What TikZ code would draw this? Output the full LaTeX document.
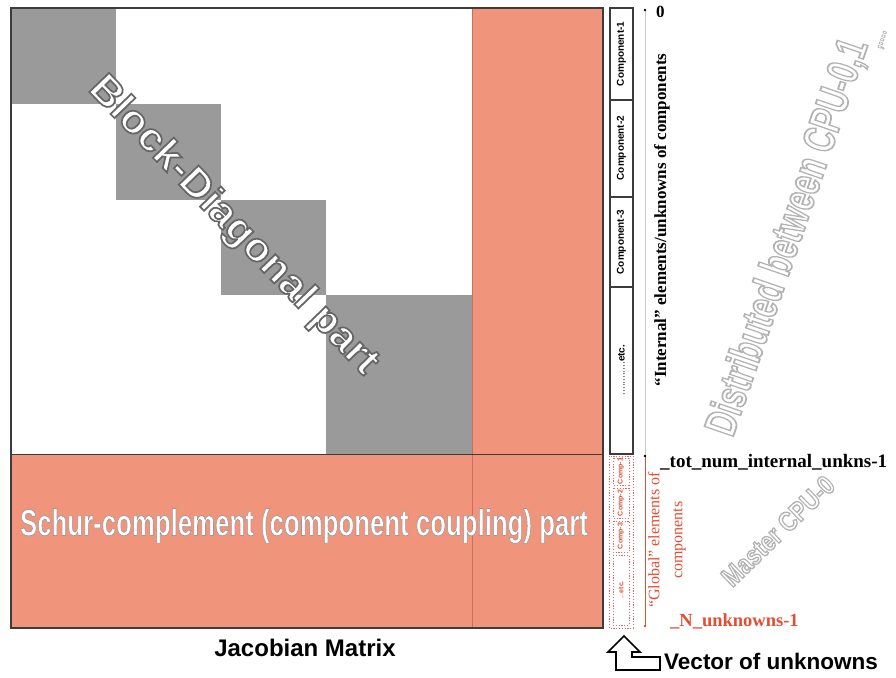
\documentclass[tikz,border=0pt]{standalone}
\usepackage{fontspec}
\setmainfont{Liberation Serif}
\setsansfont{Liberation Sans}
\usetikzlibrary{calc}

\definecolor{blockgray}{RGB}{154,154,154}
\definecolor{salmon}{RGB}{240,149,123}
\definecolor{salmonline}{RGB}{196,112,92}
\definecolor{globalred}{RGB}{226,78,50}
\definecolor{dashred}{RGB}{228,100,104}
\definecolor{framegray}{RGB}{60,60,60}
\definecolor{idxgray}{RGB}{200,200,200}

% text drawn with a PDF text render mode: #1 mode, #2 stroke width, #3 stroke gray, #4 text
\newcommand\rendertext[4]{%
  \special{pdf:literal direct #1 Tr #2 w #3 G}#4\special{pdf:literal direct 0 Tr}}

\tikzset{
  segtext/.style={inner sep=0, rotate=90, font=\sffamily\bfseries\fontsize{10}{10}\selectfont},
  globtext/.style={inner sep=0, rotate=90, text=globalred, font=\sffamily\bfseries\fontsize{7}{7}\selectfont},
  intbox/.style={draw=framegray, line width=1.1pt},
  globbox/.style={draw=dashred, dash pattern=on 1.2pt off 1.6pt, line width=0.9pt},
  idxlabel/.style={inner sep=0, anchor=west, font=\bfseries\fontsize{19}{19}\selectfont},
  bigtext/.style={inner sep=0, text=white, font=\sffamily\bfseries},
}

\begin{document}
\begin{tikzpicture}[x=1pt,y=-1pt]
\useasboundingbox (0,0) rectangle (896,677);
\fill[white] (0,0) rectangle (896,677);

% ---------------- Jacobian matrix ----------------
\coordinate (M-nw) at (11,8);
\coordinate (M-se) at (603,628);
\fill[salmon] (472,8) rectangle (603,628);
\fill[salmon] (11,454) rectangle (603,628);
\fill[blockgray] (11,8) rectangle (116,104);
\fill[blockgray] (116,104) rectangle (221,200);
\fill[blockgray] (221,200) rectangle (326,295);
\fill[blockgray] (326,295) rectangle (472,454);
\draw[salmonline, line width=0.7pt] (472,8) -- (472,628);
\draw[framegray, line width=0.8pt] (11,454) -- (603,454);
\draw[framegray, line width=1.6pt] (M-nw) rectangle (M-se);

% block-diagonal lettering: white letters with a gray edge
\node[bigtext, rotate=-46] (bdlabel) at (233,226)
  {\resizebox{398pt}{29pt}{\rendertext{2}{0.42}{0.4}{Block-Diagonal part}}};

% Schur complement lettering
\node[bigtext] (sclabel) at (304,526)
  {\resizebox{568pt}{27pt}{\rendertext{2}{0.2}{0.6}{Schur-complement (component coupling) part}}};

\node[inner sep=0, font=\sffamily\bfseries\fontsize{24}{24}\selectfont] (jaclabel) at (305,648) {Jacobian Matrix};

% ---------------- vector of unknowns ----------------
% internal part
\draw[intbox] (610,8) rectangle (633,454);
\draw[intbox] (610,100) -- (633,100);
\draw[intbox] (610,197) -- (633,197);
\draw[intbox] (610,287) -- (633,287);
\node[segtext] (c1) at (621.5,54) {Component-1};
\node[segtext] (c2) at (621.5,148) {Component-2};
\node[segtext] (c3) at (621.5,242) {Component-3};
\node[segtext] (cetc) at (621.5,370) {\textmd{............}etc.};

% global part
\draw[globbox] (609,456) rectangle (633,628);
\draw[globbox] (613,458) rectangle (629,485);
\draw[globbox] (613,488) rectangle (629,518);
\draw[globbox] (613,521) rectangle (629,552);
\draw[globbox] (613,555) rectangle (629,625);
\node[globtext] (g1) at (621,471) {Comp-1};
\node[globtext] (g2) at (621,503) {Comp-2};
\node[globtext] (g3) at (621,536) {Comp-3};
\node[globtext] (getc) at (621,590) {\textmd{...}etc.};

% index axis
\coordinate (i0) at (645,10);
\coordinate (itot) at (645,456);
\coordinate (iN) at (645,626);
\draw[idxgray, line width=0.8pt] (i0) -- (itot);
\draw[globalred, line width=0.6pt] (itot) -- (iN);
\fill[black] (i0) circle (1.3);
\fill[black] (itot) circle (1.3);
\fill[globalred] (iN) circle (1.3);

\node[idxlabel, font=\bfseries\fontsize{17}{17}\selectfont] (zero) at (656,12) {0};
\node[idxlabel] (tot) at (660,462) {\_tot\_num\_internal\_unkns-1};
\node[idxlabel, text=globalred, font=\bfseries\fontsize{18.5}{18.5}\selectfont] (nunk) at (670,621) {\_N\_unknowns-1};

\node[inner sep=0, rotate=90, font=\bfseries\fontsize{17}{17}\selectfont] (intlabel) at (662,220)
  {“Internal” elements/unknowns of components};
\node[inner sep=0, rotate=90, align=center, text=globalred, font=\fontsize{16}{23}\selectfont] (globlabel) at (667,540)
  {“Global” elements of\\components};

% hollow (outline only) annotations
\node[bigtext, rotate=71] (distlabel) at (796,230)
  {\resizebox{435pt}{32pt}{\rendertext{1}{0.4}{0.7}{Distributed between CPU-0,1\raisebox{-0.3em}{\scalebox{0.45}{,....}}}}};
\node[bigtext, rotate=44] (masterlabel) at (778,531)
  {\resizebox{145pt}{19pt}{\rendertext{1}{0.5}{0.7}{Master CPU-0}}};

% bent arrow pointing at the vector
\draw[line width=1.7pt, fill=white, line join=miter] (624,636) -- (640,652) -- (632,652) -- (632,657)
  -- (660,657) -- (660,670) -- (616,670) -- (616,652) -- (608,652) -- cycle;
\node[inner sep=0, anchor=west, font=\sffamily\bfseries\fontsize{22.5}{22.5}\selectfont] (veclabel) at (664,661) {Vector of unknowns};
\end{tikzpicture}
\end{document}
